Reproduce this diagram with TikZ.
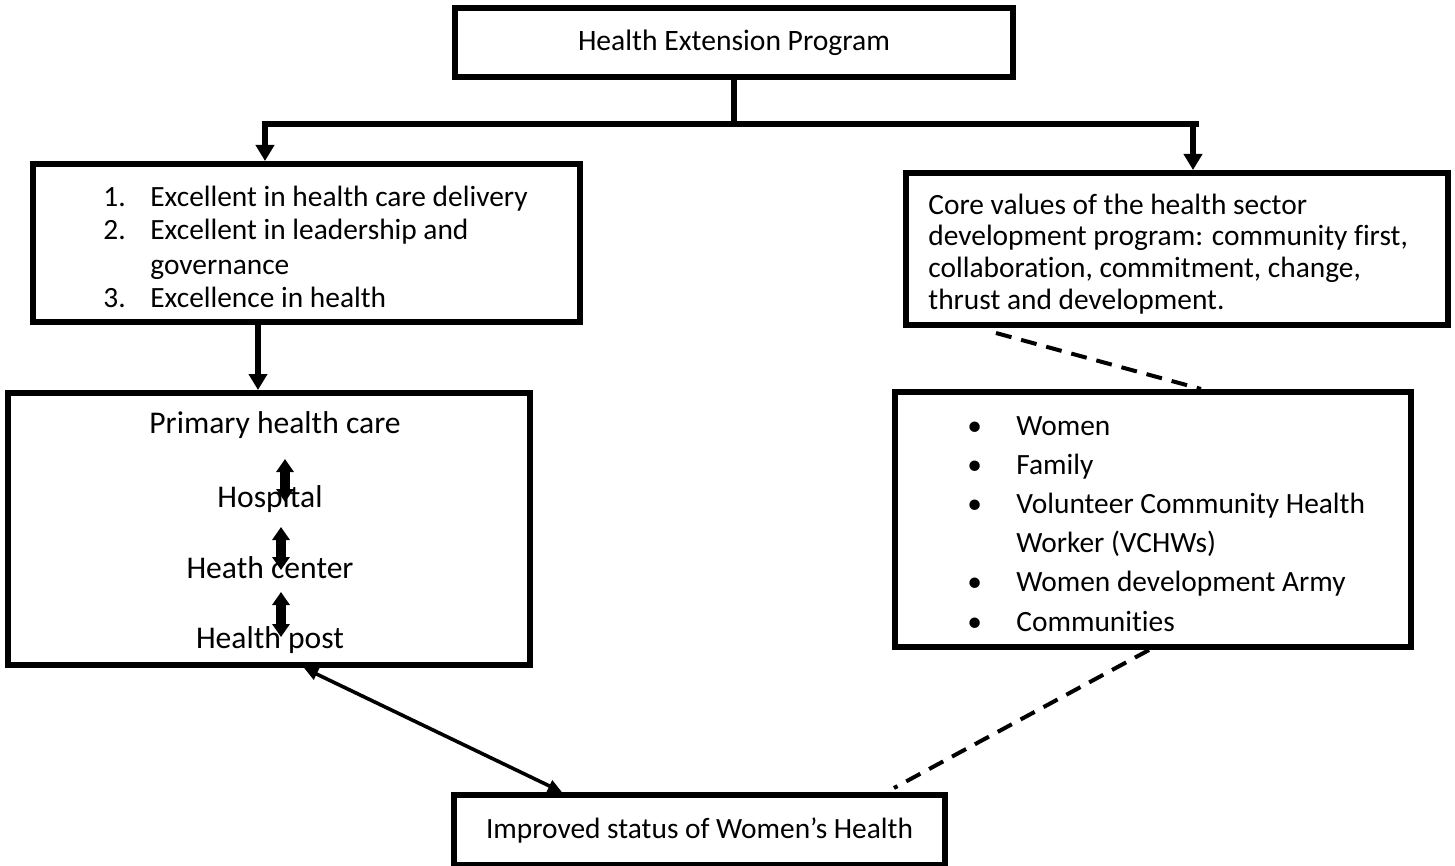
\documentclass[tikz,border=0pt]{standalone}
\usepackage{fontspec}
\setmainfont{Carlito}[Ligatures=NoCommon]
\usetikzlibrary{arrows.meta}

\tikzset{
  box/.style={draw, line width=3pt, inner sep=0pt},
  link/.style={line width=3pt},
  down/.style={line width=3pt, -{Triangle[width=9pt,length=8pt]}},
  updown/.style={line width=5pt, {Triangle[width=8.5pt,length=6.5pt]}-{Triangle[width=8.5pt,length=6.5pt]}},
  both/.style={line width=1.8pt, {Triangle[width=6pt,length=7pt]}-{Triangle[width=6pt,length=7pt]}},
  dashlink/.style={line width=2pt, dash pattern=on 8pt off 5pt},
}
\newcommand{\bodyfont}{\fontsize{14.7}{16}\selectfont}
\newcommand{\phcfont}{\fontsize{15.8}{18}\selectfont}

\begin{document}
\begin{tikzpicture}[x=0.5pt, y=-0.5pt]
  \useasboundingbox (0,0) rectangle (1455,866);
  % boxes
  \node [box, minimum width=279pt, minimum height=34.5pt, font=\fontsize{14.8}{17}\selectfont] (hep) at (734,42.5) {Health Extension Program};
  \node [box, minimum width=273.5pt, minimum height=79pt] (goals) at (306.5,243) {};
  \node [box, minimum width=271pt, minimum height=76pt] (values) at (1177,249) {};
  \node [box, minimum width=261pt, minimum height=136pt] (phc) at (269,529) {};
  \node [box, minimum width=258pt, minimum height=127.5pt] (actors) at (1153,519.5) {};
  \node [box, minimum width=245.5pt, minimum height=35pt, font=\bodyfont] (women) at (699.5,830) {Improved status of Women’s Health};

  % texts in the boxes
  \node [anchor=base west, inner sep=0pt, font=\fontsize{14.7}{17}\selectfont] (goalslist) at (103,206) {%
    \begin{tabular}[t]{@{}p{23.5pt}@{}l@{}}
      1. & Excellent in health care delivery\\
      2. & Excellent in leadership and\\
         & governance\\
      3. & Excellence in health
    \end{tabular}};
  \node [anchor=base west, inner sep=0pt, font=\fontsize{14.7}{15.9}\selectfont] (valueslist) at (928,214) {%
    \begin{tabular}[t]{@{}l@{}}
      Core values of the health sector\\
      development program: community first,\\
      collaboration, commitment, change,\\
      thrust and development.
    \end{tabular}};
  \node [anchor=base west, inner sep=0pt, font=\fontsize{14.7}{19.6}\selectfont] (actorslist) at (967,435) {%
    \begin{tabular}[t]{@{}p{24.5pt}@{}l@{}}
      \textbullet & Women\\
      \textbullet & Family\\
      \textbullet & Volunteer Community Health\\
                  & Worker (VCHWs)\\
      \textbullet & Women development Army\\
      \textbullet & Communities
    \end{tabular}};
  \node [anchor=base, inner sep=0pt, font=\phcfont] (phead) at (275,433) {Primary health care};
  \node [anchor=base, inner sep=0pt, font=\phcfont] (hosp) at (270,507) {Hospital};
  \node [anchor=base, inner sep=0pt, font=\phcfont] (hcenter) at (270,578) {Heath center};
  \node [anchor=base, inner sep=0pt, font=\phcfont] (hpost) at (270,648) {Health post};

  % tree from the top box
  \coordinate (barL) at (262,124);
  \coordinate (barR) at (1199,124);
  \coordinate (leftdrop) at (265,124);
  \coordinate (rightdrop) at (1193,124);
  \coordinate (middrop) at (258,0);
  \draw [link] (hep.south) -- (hep.south |- barL);
  \draw [link, line width=3.3pt] (barL) -- (barR);
  \draw [down] (leftdrop) -- (leftdrop |- goals.north);
  \draw [down] (rightdrop) -- (rightdrop |- values.north);
  \draw [down] (middrop |- goals.south) -- (middrop |- phc.north);

  % levels of care
  \coordinate (lv1a) at (285,459); \coordinate (lv1b) at (285,502);
  \coordinate (lv2a) at (281,527); \coordinate (lv2b) at (281,570);
  \coordinate (lv3a) at (281,592); \coordinate (lv3b) at (281,637);
  \draw [updown] (lv1a) -- (lv1b);
  \draw [updown] (lv2a) -- (lv2b);
  \draw [updown] (lv3a) -- (lv3b);

  % links to the outcome
  \coordinate (diagA) at (304,0);
  \coordinate (diagB) at (562,0);
  \draw [both] (diagA |- phc.south) -- (diagB |- women.north);
  \coordinate (dashA) at (996,333);
  \coordinate (dashB) at (1201,0);
  \draw [dashlink] (dashA) -- (dashB |- actors.north);
  \coordinate (dashC) at (1149,0);
  \coordinate (dashD) at (894,788);
  \draw [dashlink] (dashC |- actors.south) -- (dashD);
\end{tikzpicture}
\end{document}
